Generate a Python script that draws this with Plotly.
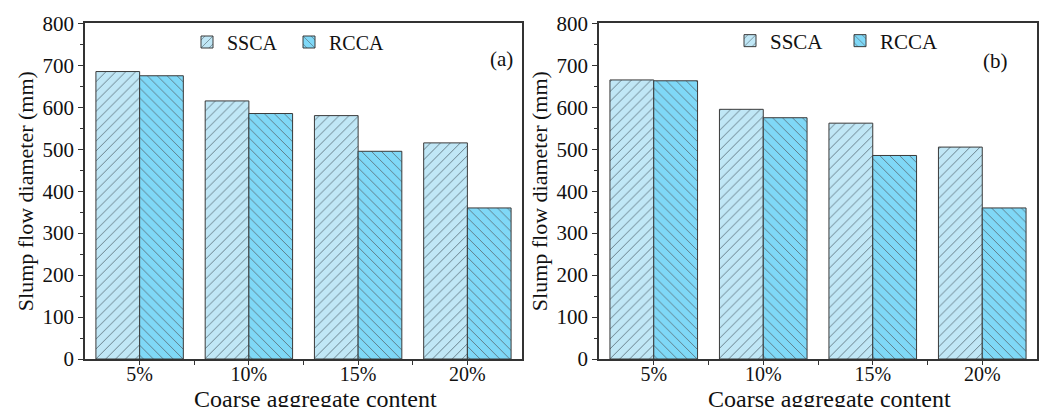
import plotly.graph_objects as go

categories = ["5%", "10%", "15%", "20%"]
ssca_a = [685, 615, 580, 515]
rcca_a = [675, 585, 495, 360]
ssca_b = [665, 595, 562, 505]
rcca_b = [663, 575, 485, 360]
panel_labels = ["(a)", "(b)"]
series_names = ["SSCA", "RCCA"]
x_title = "Coarse aggregate content"
y_title = "Slump flow diameter (mm)"
y_ticks = list(range(0, 801, 100))

W, H = 1043, 407
FONT = "Liberation Serif"
SSCA_FILL = "#c0e7f6"
RCCA_FILL = "#7fd8f7"
HATCH = "#5a6f78"
EDGE = "#3a3a3a"
AX = "#333333"

xpos = list(range(len(categories)))

fig = go.Figure()

def add_bars(vals, name, fill, shape, xa, ya, legend):
    fig.add_trace(go.Bar(
        x=xpos, y=vals, name=name, xaxis=xa, yaxis=ya, legend=legend,
        width=0.4,
        marker=dict(color=fill, line=dict(color=EDGE, width=1),
                    pattern=dict(shape=shape, fgcolor=HATCH, bgcolor=fill,
                                 fillmode="replace", size=7, solidity=0.12)),
    ))

add_bars(ssca_a, series_names[0], SSCA_FILL, "/", "x", "y", "legend")
add_bars(rcca_a, series_names[1], RCCA_FILL, "\\", "x", "y", "legend")
add_bars(ssca_b, series_names[0], SSCA_FILL, "/", "x2", "y2", "legend2")
add_bars(rcca_b, series_names[1], RCCA_FILL, "\\", "x2", "y2", "legend2")

tickvals = []
ticktext = []
for i, c in enumerate(categories):
    tickvals.append(i)
    ticktext.append(c)
    if i < len(categories) - 1:
        tickvals.append(i + 0.5)
        ticktext.append("")

xcommon = dict(range=[-0.5, 3.5], tickvals=tickvals, ticktext=ticktext,
               ticks="outside", ticklen=4, tickcolor=AX, tickwidth=1.2,
               showline=True, linecolor=AX, linewidth=1.5, mirror=True,
               showgrid=False, zeroline=False, automargin=False,
               ticklabelstandoff=-8,
               tickfont=dict(family=FONT, size=20, color="#111"))
ycommon = dict(range=[0, 800], tickvals=y_ticks,
               ticks="outside", ticklen=5, tickcolor=AX, tickwidth=1.2,
               minor=dict(dtick=50, ticks="outside", ticklen=3, tickcolor=AX),
               showline=True, linecolor=AX, linewidth=1.5, mirror=True,
               showgrid=False, zeroline=False, automargin=False,
               tickfont=dict(family=FONT, size=21, color="#111"),
               title=dict(text=y_title,
                          font=dict(family=FONT, size=22, color="#111"),
                          standoff=3))

ytop = 1 - 23.3 / H
ybot = 1 - 359 / H
fig.update_layout(
    width=W, height=H, margin=dict(l=0, r=0, t=0, b=0, autoexpand=False),
    paper_bgcolor="white", plot_bgcolor="white",
    barmode="group", bargap=0.2, bargroupgap=0,
    xaxis=dict(domain=[85 / W, 522 / W], anchor="y", **xcommon),
    yaxis=dict(domain=[ybot, ytop], anchor="x", **ycommon),
    xaxis2=dict(domain=[599 / W, 1037 / W], anchor="y2", **xcommon),
    yaxis2=dict(domain=[ybot, ytop], anchor="x2", **ycommon),
    legend=dict(orientation="h", x=187 / W, xanchor="left", y=1 - 42 / H,
                yanchor="middle", font=dict(family=FONT, size=20, color="#111"),
                bgcolor="rgba(0,0,0,0)", entrywidth=57, tracegroupgap=0),
    legend2=dict(orientation="h", x=730 / W, xanchor="left", y=1 - 41 / H,
                 yanchor="middle", font=dict(family=FONT, size=21, color="#111"),
                 bgcolor="rgba(0,0,0,0)", entrywidth=65, tracegroupgap=0),
    annotations=[
        dict(text=panel_labels[0], x=501 / W, y=1 - 45 / H, xref="paper", yref="paper",
             showarrow=False, font=dict(family=FONT, size=21, color="#111")),
        dict(text=panel_labels[1], x=1010 / W, y=1 - 47 / H, xref="paper", yref="paper",
             showarrow=False, font=dict(family=FONT, size=21, color="#111")),
        dict(text=x_title, x=315 / W, y=1 - 384 / H, xref="paper", yref="paper",
             xanchor="center", yanchor="top", showarrow=False,
             font=dict(family=FONT, size=24, color="#111")),
        dict(text=x_title, x=829 / W, y=1 - 384 / H, xref="paper", yref="paper",
             xanchor="center", yanchor="top", showarrow=False,
             font=dict(family=FONT, size=24, color="#111")),
    ],
)

fig.write_html("out.html")
